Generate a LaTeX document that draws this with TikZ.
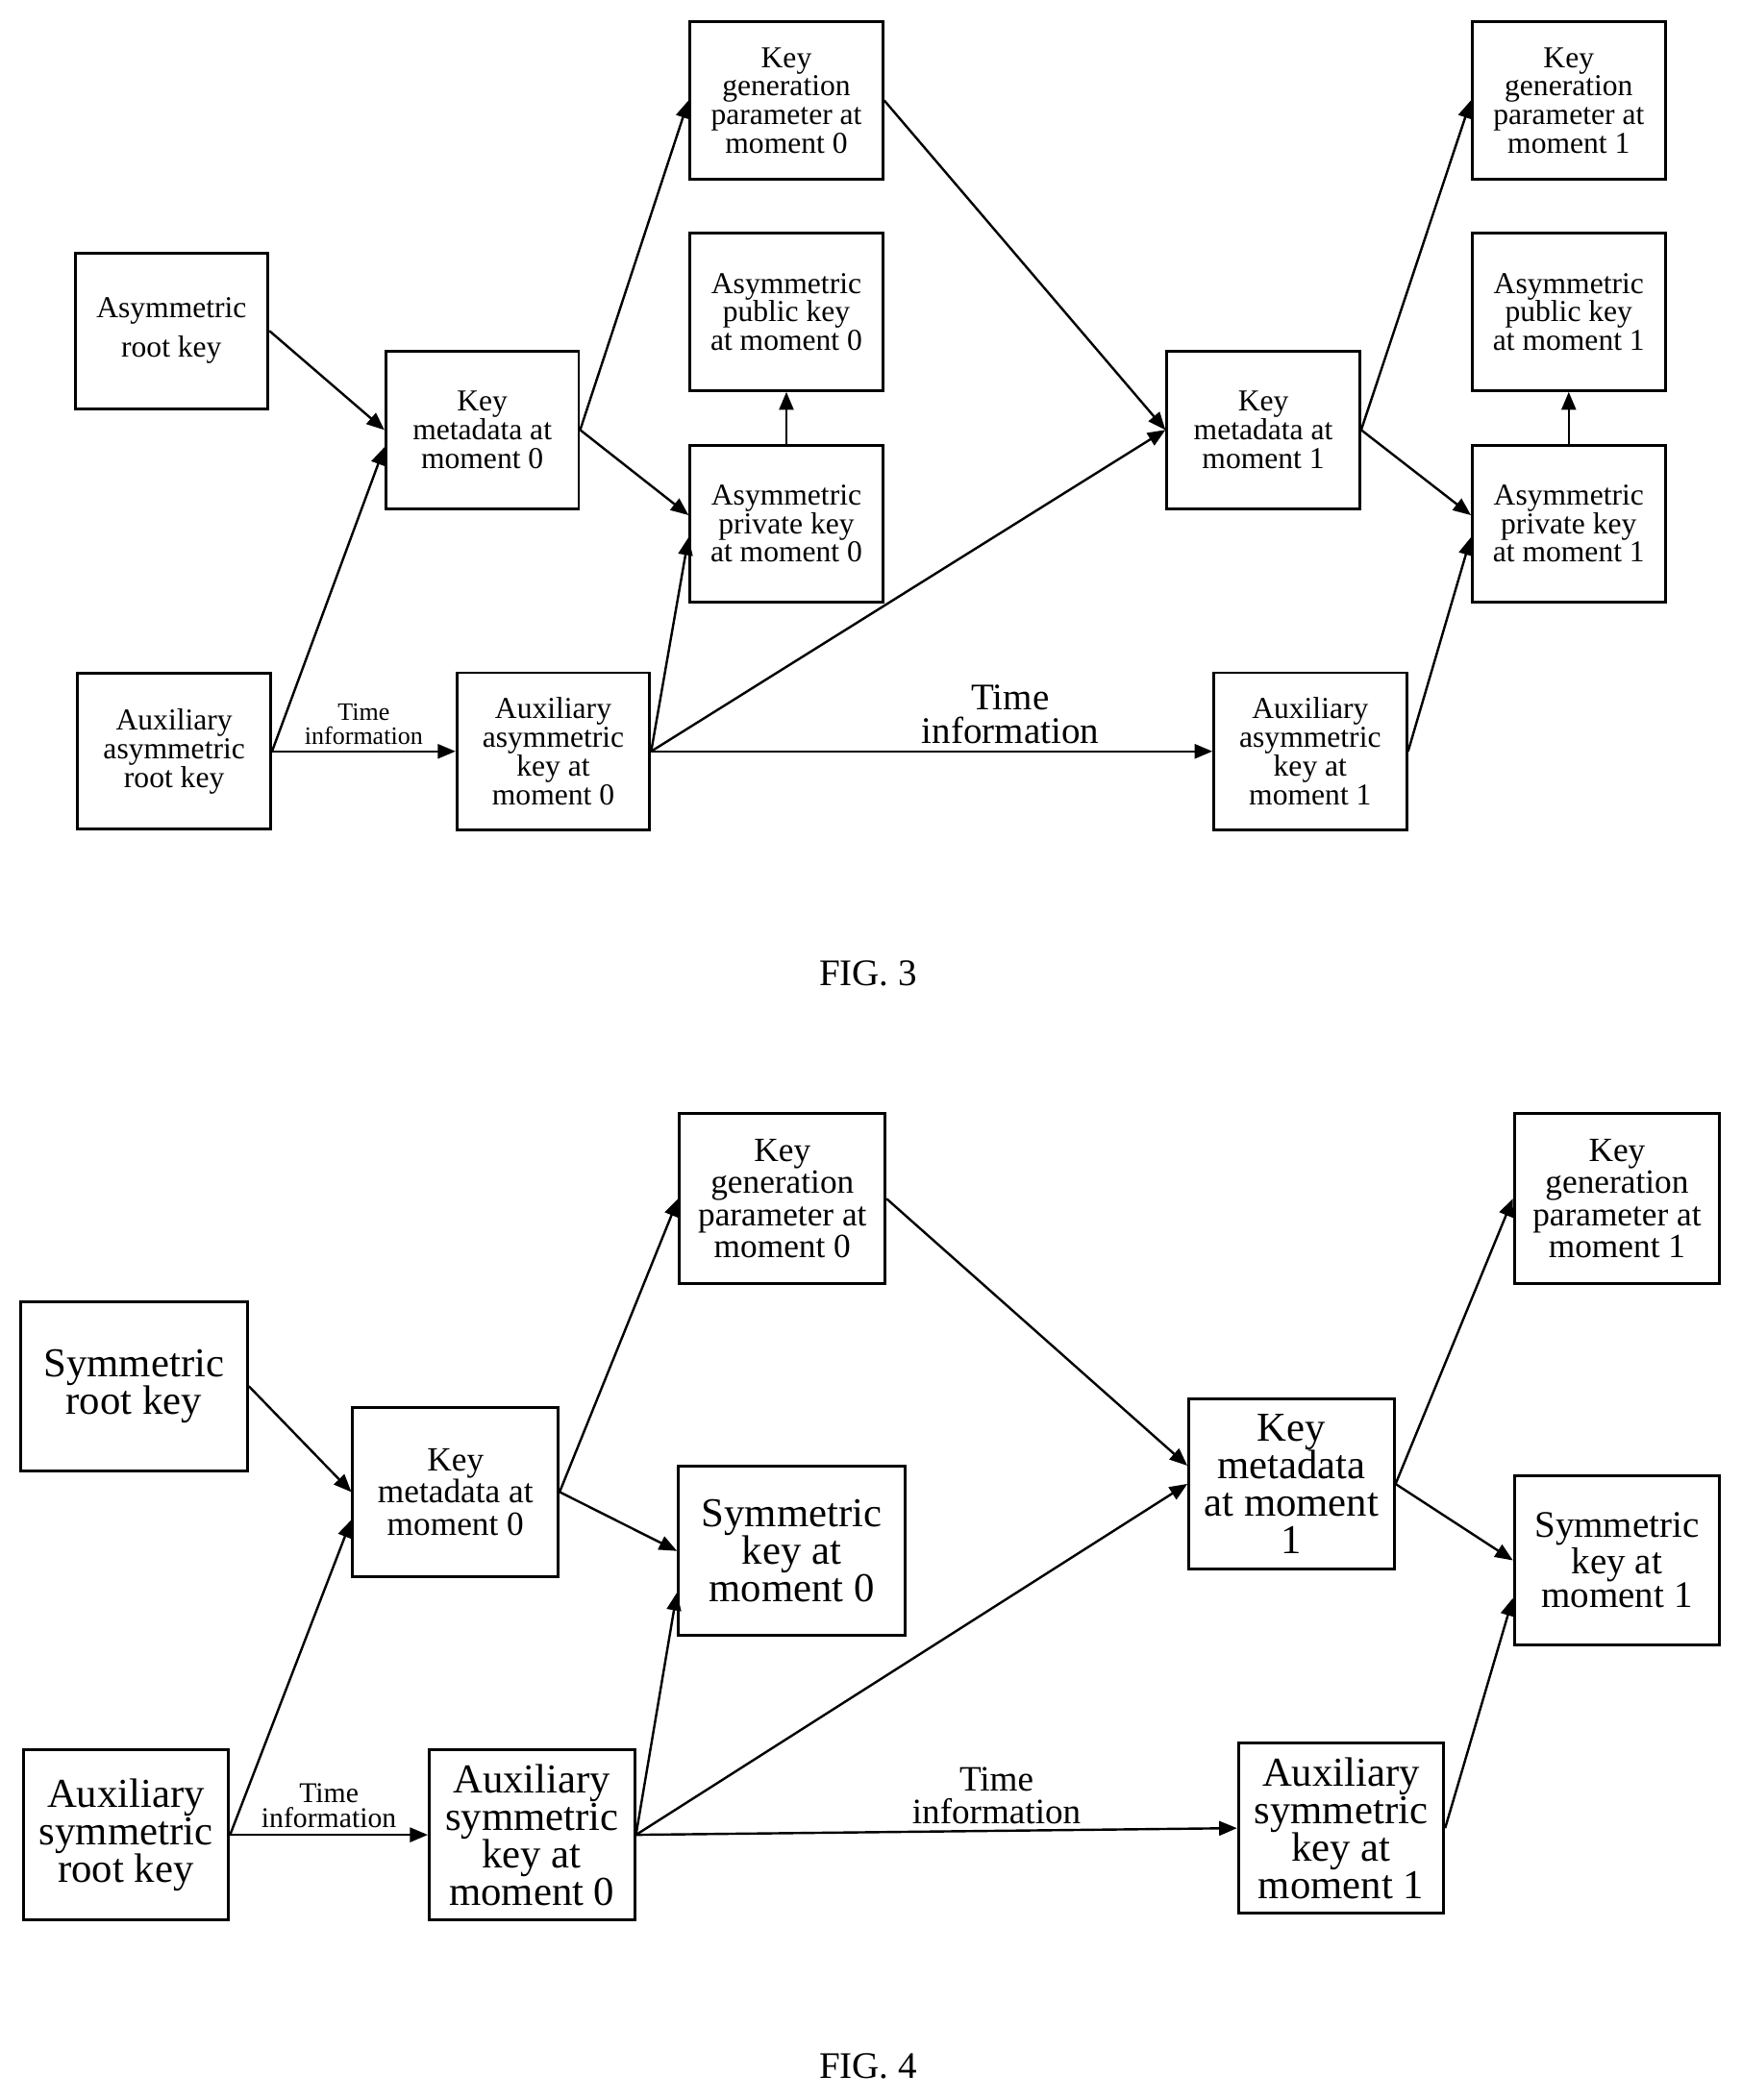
\documentclass[tikz,border=0pt]{standalone}
\usepackage{fontspec}
\setmainfont{Liberation Serif}
\usetikzlibrary{arrows}

\tikzset{
  box/.style={draw, line width=1.6pt, inner sep=1pt, align=center, font=\fontsize{17}{16}\selectfont},
  bigbox/.style={draw, line width=1.6pt, inner sep=1pt, align=center, font=\fontsize{21}{20}\selectfont},
  conn/.style={-triangle 45, line width=1.3pt},
}

\begin{document}
\begin{tikzpicture}[x=0.75pt,y=0.75pt,yscale=-1,xscale=1]
  \useasboundingbox (0,0) rectangle (1300,1568);

  % FIG. 3
  \node [box, minimum width=108pt, minimum height=87pt] (aroot) at (128,247) {Asymmetric\\[6pt]root key};
  \node [box, minimum width=108pt, minimum height=87pt] (auxroot) at (130,561) {Auxiliary\\asymmetric\\root key};
  \node [box, minimum width=108pt, minimum height=88pt] (kmA) at (360,321) {Key\\metadata at\\moment 0};
  \node [box, minimum width=108pt, minimum height=88pt] (auxA) at (413,561) {Auxiliary\\asymmetric\\key at\\moment 0};
  \node [box, minimum width=108pt, minimum height=88pt] (kgA) at (587,75) {Key\\generation\\parameter at\\moment 0};
  \node [box, minimum width=108pt, minimum height=88pt] (pubA) at (587,233) {Asymmetric\\public key\\at moment 0};
  \node [box, minimum width=108pt, minimum height=88pt] (privA) at (587,391) {Asymmetric\\private key\\at moment 0};
  \node [box, minimum width=108pt, minimum height=88pt] (kmB) at (943,321) {Key\\metadata at\\moment 1};
  \node [box, minimum width=108pt, minimum height=88pt] (auxB) at (978,561) {Auxiliary\\asymmetric\\key at\\moment 1};
  \node [box, minimum width=108pt, minimum height=88pt] (kgB) at (1171,75) {Key\\generation\\parameter at\\moment 1};
  \node [box, minimum width=108pt, minimum height=88pt] (pubB) at (1171,233) {Asymmetric\\public key\\at moment 1};
  \node [box, minimum width=108pt, minimum height=88pt] (privB) at (1171,391) {Asymmetric\\private key\\at moment 1};

  \draw [conn] (aroot.east) -- (kmA.west);
  \draw [conn] (auxroot.east) -- (kmA.190);
  \draw [conn] (auxroot.east) -- node [above, font=\fontsize{14}{13}\selectfont, align=center] {Time\\information} (auxA.west);
  \draw [conn] (kmA.east) -- (kgA.west);
  \draw [conn] (kmA.east) -- (privA.175);
  \draw [conn] (auxA.east) -- (privA.188);
  \draw [conn] (auxA.east) -- (kmB.west);
  \draw [conn] (auxA.east) -- node [above, pos=0.64, font=\fontsize{21}{19}\selectfont, align=center] {Time\\information} (auxB.west);
  \draw [conn] (kgA.east) -- (kmB.west);
  \draw [conn] (privA.north) -- (pubA.south);
  \draw [conn] (kmB.east) -- (kgB.west);
  \draw [conn] (kmB.east) -- (privB.175);
  \draw [conn] (auxB.east) -- (privB.188);
  \draw [conn] (privB.north) -- (pubB.south);

  \node [font=\fontsize{21}{21}\selectfont] (figA) at (648,727) {FIG. 3};

  % FIG. 4
  \node [bigbox, font=\fontsize{23}{21}\selectfont, minimum width=127pt, minimum height=95pt] (sroot) at (100,1035) {Symmetric\\root key};
  \node [bigbox, font=\fontsize{23}{21}\selectfont, minimum width=115pt, minimum height=95pt] (auxsroot) at (94,1370) {Auxiliary\\symmetric\\root key};
  \node [box, font=\fontsize{19}{18}\selectfont, minimum width=115pt, minimum height=95pt] (skmA) at (340,1114) {Key\\metadata at\\moment 0};
  \node [bigbox, font=\fontsize{23}{21}\selectfont, minimum width=115pt, minimum height=95pt] (sauxA) at (397,1370) {Auxiliary\\symmetric\\key at\\moment 0};
  \node [box, font=\fontsize{19}{18}\selectfont, minimum width=115pt, minimum height=95pt] (skgA) at (584,895) {Key\\generation\\parameter at\\moment 0};
  \node [bigbox, font=\fontsize{23}{21}\selectfont, minimum width=127pt, minimum height=95pt] (symA) at (591,1158) {Symmetric\\key at\\moment 0};
  \node [bigbox, font=\fontsize{23}{21}\selectfont, minimum width=115pt, minimum height=95pt] (skmB) at (964,1108) {Key\\metadata\\at moment\\1};
  \node [bigbox, font=\fontsize{23}{21}\selectfont, minimum width=115pt, minimum height=95pt] (sauxB) at (1001,1365) {Auxiliary\\symmetric\\key at\\moment 1};
  \node [box, font=\fontsize{19}{18}\selectfont, minimum width=115pt, minimum height=95pt] (skgB) at (1207,895) {Key\\generation\\parameter at\\moment 1};
  \node [box, font=\fontsize{21}{19}\selectfont, minimum width=115pt, minimum height=95pt] (symB) at (1207,1165) {Symmetric\\key at\\moment 1};

  \draw [conn] (sroot.east) -- (skmA.west);
  \draw [conn] (auxsroot.east) -- (skmA.195);
  \draw [conn] (auxsroot.east) -- node [above, font=\fontsize{16}{14}\selectfont, align=center] {Time\\information} (sauxA.west);
  \draw [conn] (skmA.east) -- (symA.west);
  \draw [conn] (skmA.east) -- (skgA.west);
  \draw [conn] (sauxA.east) -- (symA.200);
  \draw [conn] (sauxA.east) -- (skmB.west);
  \draw [conn] (sauxA.east) -- node [above, pos=0.6, font=\fontsize{20}{18}\selectfont, align=center] {Time\\information} (sauxB.west);
  \draw [conn] (skgA.east) -- (skmB.170);
  \draw [conn] (skmB.east) -- (skgB.west);
  \draw [conn] (skmB.east) -- (symB.west);
  \draw [conn] (sauxB.east) -- (symB.200);

  \node [font=\fontsize{21}{21}\selectfont] (figB) at (648,1543) {FIG. 4};
\end{tikzpicture}
\end{document}
